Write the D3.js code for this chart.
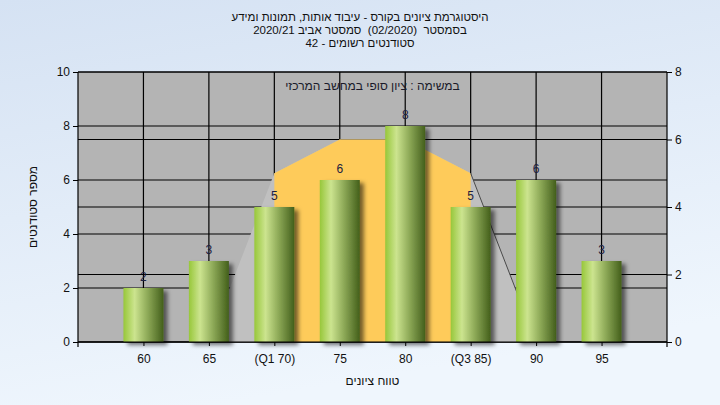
<!DOCTYPE html>
<html><head><meta charset="utf-8">
<script src="https://cdn.jsdelivr.net/npm/d3@7"></script>
<style>
html,body{margin:0;padding:0;overflow:hidden;}
svg{display:block;}
text{font-family:"Liberation Sans",Arial,sans-serif;white-space:pre;}
</style></head>
<body>
<script>
const categories = ["60","65","(Q1 70)","75","80","(Q3 85)","90","95"];
const counts = [2,3,5,6,8,5,6,3];
const outerArea = [ {c:"65",v:0},{c:"(Q1 70)",v:5},{c:"75",v:6},{c:"80",v:6},{c:"(Q3 85)",v:5},{c:"90",v:0} ];
const innerArea = [ {c:"(Q1 70)",v:5},{c:"75",v:6},{c:"80",v:6},{c:"(Q3 85)",v:5} ];
const leftTicks = [0,2,4,6,8,10];
const rightTicks = [0,2,4,6,8];
const titleLines = ["היסטוגרמת ציונים בקורס - עיבוד אותות, תמונות ומידע","בסמסטר  (02/2020)  סמסטר אביב 2020/21","סטודנטים רשומים - 42"];
const note = "במשימה : ציון סופי במחשב המרכזי";
const xTitle = "טווח ציונים";
const yTitle = "מספר סטודנטים";

const W=720,H=405;
const m={l:78,r:667,t:72,b:342};
const svg=d3.select("body").append("svg").attr("width",W).attr("height",H);
const defs=svg.append("defs");
const bg=defs.append("linearGradient").attr("id","bg").attr("x1",0).attr("y1",0).attr("x2",0.3).attr("y2",1);
bg.append("stop").attr("offset",0).attr("stop-color","#d5e2f3");
bg.append("stop").attr("offset",1).attr("stop-color","#eff6fd");
const bar=defs.append("linearGradient").attr("id","bar").attr("x1",0).attr("y1",0).attr("x2",1).attr("y2",0);
[[0,"#97c73a"],[0.28,"#cce48f"],[0.6,"#8eaa58"],[1,"#435f1b"]].forEach(s=>bar.append("stop").attr("offset",s[0]).attr("stop-color",s[1]));
const f=defs.append("filter").attr("id","sh").attr("x","-20%").attr("y","-20%").attr("width","150%").attr("height","150%");
f.append("feDropShadow").attr("dx",4).attr("dy",3).attr("stdDeviation",2).attr("flood-color","#000").attr("flood-opacity",0.55);

svg.append("rect").attr("width",W).attr("height",H).attr("fill","url(#bg)");

const x=d3.scalePoint().domain(categories).range([m.l,m.r]).padding(1);
const yL=d3.scaleLinear().domain([0,10]).range([m.b,m.t]);
const yR=d3.scaleLinear().domain([0,8]).range([m.b,m.t]);

svg.append("rect").attr("x",m.l).attr("y",m.t).attr("width",m.r-m.l).attr("height",m.b-m.t).attr("fill","#b4b4b4");

// gridlines
const g=svg.append("g").attr("stroke","#000").attr("stroke-width",1.2);
leftTicks.forEach(t=>g.append("line").attr("x1",m.l).attr("x2",m.r).attr("y1",yL(t)).attr("y2",yL(t)));
rightTicks.forEach(t=>g.append("line").attr("x1",m.l).attr("x2",m.r).attr("y1",yR(t)).attr("y2",yR(t)));
categories.forEach(c=>g.append("line").attr("x1",x(c)).attr("x2",x(c)).attr("y1",m.t).attr("y2",m.b));

// areas
const area=d3.area().x(d=>x(d.c)).y0(yR(0)).y1(d=>yR(d.v));
svg.append("path").datum(outerArea).attr("d",area).attr("fill","#c0c0c0");
svg.append("path").datum(innerArea).attr("d",area).attr("fill","#fecb5a");
svg.append("path").datum(outerArea.slice(4)).attr("d",d3.line().x(d=>x(d.c)).y(d=>yR(d.v))).attr("stroke","#4a4a4a").attr("fill","none").attr("stroke-width",1);

// note
svg.append("text").attr("x",(m.l+m.r)/2).attr("y",90).attr("text-anchor","middle").attr("direction","rtl").attr("font-size",12).attr("fill","#1a1a2a").text(note);

// bars
const bw=40;
svg.append("g").selectAll("rect").data(counts).join("rect")
 .attr("x",(d,i)=>x(categories[i])-bw/2).attr("width",bw)
 .attr("y",d=>yL(d)).attr("height",d=>yL(0)-yL(d))
 .attr("fill","url(#bar)").attr("filter","url(#sh)");
svg.append("g").selectAll("text").data(counts).join("text")
 .attr("x",(d,i)=>x(categories[i])).attr("y",d=>yL(d)-7)
 .attr("text-anchor","middle").attr("font-size",12).attr("fill","#1c2040").text(d=>d);

// axes
const axL=svg.append("g").attr("transform",`translate(${m.l},0)`).call(d3.axisLeft(yL).tickValues(leftTicks).tickSize(5).tickPadding(3));
const axR=svg.append("g").attr("transform",`translate(${m.r},0)`).call(d3.axisRight(yR).tickValues(rightTicks).tickSize(5).tickPadding(3));
const axB=svg.append("g").attr("transform",`translate(0,${m.b})`).call(d3.axisBottom(x).tickSize(4).tickPadding(8));
[axL,axR,axB].forEach(a=>{
  a.select(".domain").remove();
  a.selectAll("line").attr("stroke","#000");
  a.selectAll("text").attr("font-size",12).attr("fill","#111").attr("font-family","Liberation Sans, Arial, sans-serif");
});
svg.append("line").attr("x1",m.l).attr("x2",m.l).attr("y1",m.t).attr("y2",m.b+5).attr("stroke","#000").attr("stroke-width",1.2);
svg.append("line").attr("x1",m.r).attr("x2",m.r).attr("y1",m.t).attr("y2",m.b+5).attr("stroke","#000").attr("stroke-width",1.2);
svg.append("line").attr("x1",m.l).attr("x2",m.r).attr("y1",m.b).attr("y2",m.b).attr("stroke","#000").attr("stroke-width",1.2);

// titles
titleLines.forEach((t,i)=>svg.append("text").attr("x",360).attr("y",21+i*13).attr("text-anchor","middle").attr("direction","rtl").attr("font-size",11.5).attr("fill","#111").text(t));
svg.append("text").attr("x",(m.l+m.r)/2).attr("y",385).attr("text-anchor","middle").attr("direction","rtl").attr("font-size",12).attr("fill","#111").text(xTitle);
svg.append("text").attr("transform","translate(37,207) rotate(-90)").attr("text-anchor","middle").attr("direction","rtl").attr("font-size",12).attr("fill","#111").text(yTitle);
</script>
</body></html>
